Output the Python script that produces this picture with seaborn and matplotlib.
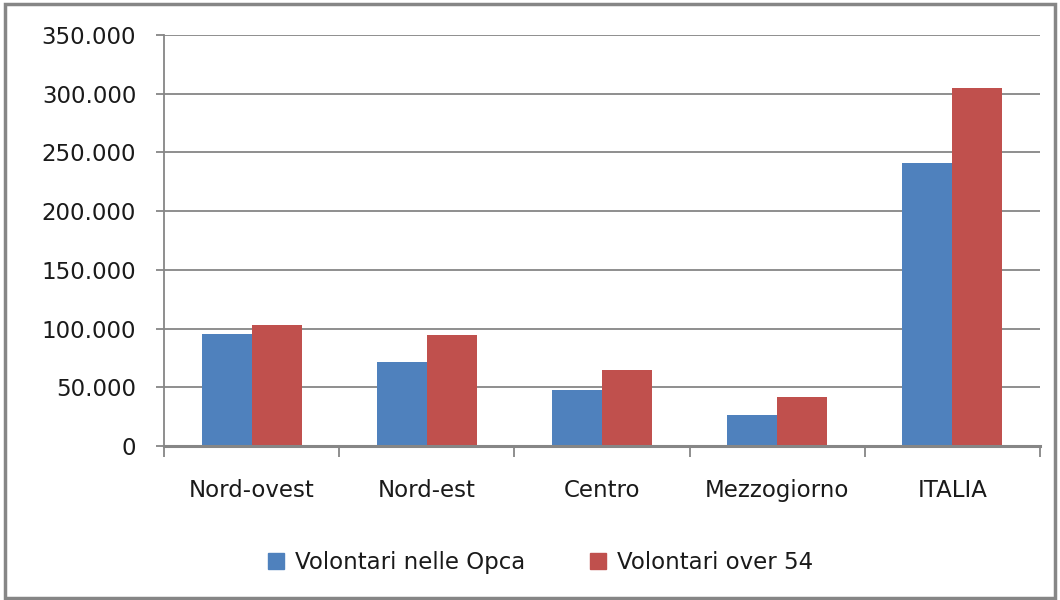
import matplotlib
matplotlib.use("Agg")
import matplotlib.pyplot as plt
import matplotlib.ticker as mticker
from matplotlib.patches import Rectangle
import pandas as pd
import seaborn as sns

# data
regioni = ["Nord-ovest", "Nord-est", "Centro", "Mezzogiorno", "ITALIA"]
volontari_opca = [95700, 71800, 47600, 26500, 241300]
volontari_over54 = [103400, 94900, 65000, 41900, 304800]
serie = ["Volontari nelle Opca", "Volontari over 54"]
colori = ["#4F81BD", "#C0504D"]
grigio = "#868686"

df = pd.DataFrame({
    "regione": regioni * 2,
    "valore": volontari_opca + volontari_over54,
    "serie": [serie[0]] * len(regioni) + [serie[1]] * len(regioni),
})

sns.set_style("white")
plt.rcParams["font.family"] = ["DejaVu Sans"]

fig = plt.figure(figsize=(10.6, 6), dpi=100)
ax = fig.add_axes([164 / 1060, 154 / 600, 876 / 1060, 411 / 600])

sns.barplot(data=df, x="regione", y="valore", hue="serie", order=regioni,
            hue_order=serie, palette=colori, width=0.57, saturation=1,
            edgecolor="none", linewidth=0, ax=ax)

ax.set_xlim(-0.5, len(regioni) - 0.5)
ax.set_ylim(0, 350000)
ax.set_yticks(range(0, 350001, 50000))
ax.yaxis.set_major_formatter(mticker.FuncFormatter(
    lambda v, p: f"{v:,.0f}".replace(",", ".")))
ax.set_xlabel("")
ax.set_ylabel("")

ax.yaxis.grid(True, color=grigio, linewidth=1.3)
ax.set_axisbelow(True)
for s in ["top", "right"]:
    ax.spines[s].set_visible(False)
ax.spines["left"].set_color(grigio)
ax.spines["left"].set_linewidth(1.3)
ax.spines["bottom"].set_color(grigio)
ax.spines["bottom"].set_linewidth(2.2)

ax.tick_params(axis="y", length=6, width=1.3, color=grigio, pad=14,
               labelsize=16.5, labelcolor="#1a1a1a")
ax.set_xticks([i + 0.5 for i in range(-1, len(regioni))], minor=True)
ax.tick_params(axis="x", which="major", length=0, pad=24, labelsize=16.5,
               labelcolor="#1a1a1a")
ax.tick_params(axis="x", which="minor", length=8, width=1.3, color=grigio)
ax.yaxis.set_tick_params(left=True)
ax.xaxis.set_tick_params(which="minor", bottom=True)

ax.legend_.remove()
handles = [Rectangle((0, 0), 1, 1, color=c) for c in colori]
fig.legend(handles, serie, loc="center", bbox_to_anchor=(0.51, 0.063),
           ncol=2, frameon=False, fontsize=16.5, handlelength=0.7,
           handleheight=0.7, handletextpad=0.5, columnspacing=2.8,
           labelcolor="#1a1a1a")

# grey frame around the whole chart
fig.patches.append(Rectangle((5 / 1060, 2 / 600), 1050 / 1060, 594 / 600,
                             transform=fig.transFigure, fill=False,
                             edgecolor=grigio, linewidth=2.5))

fig.savefig("out.png", dpi=100)
